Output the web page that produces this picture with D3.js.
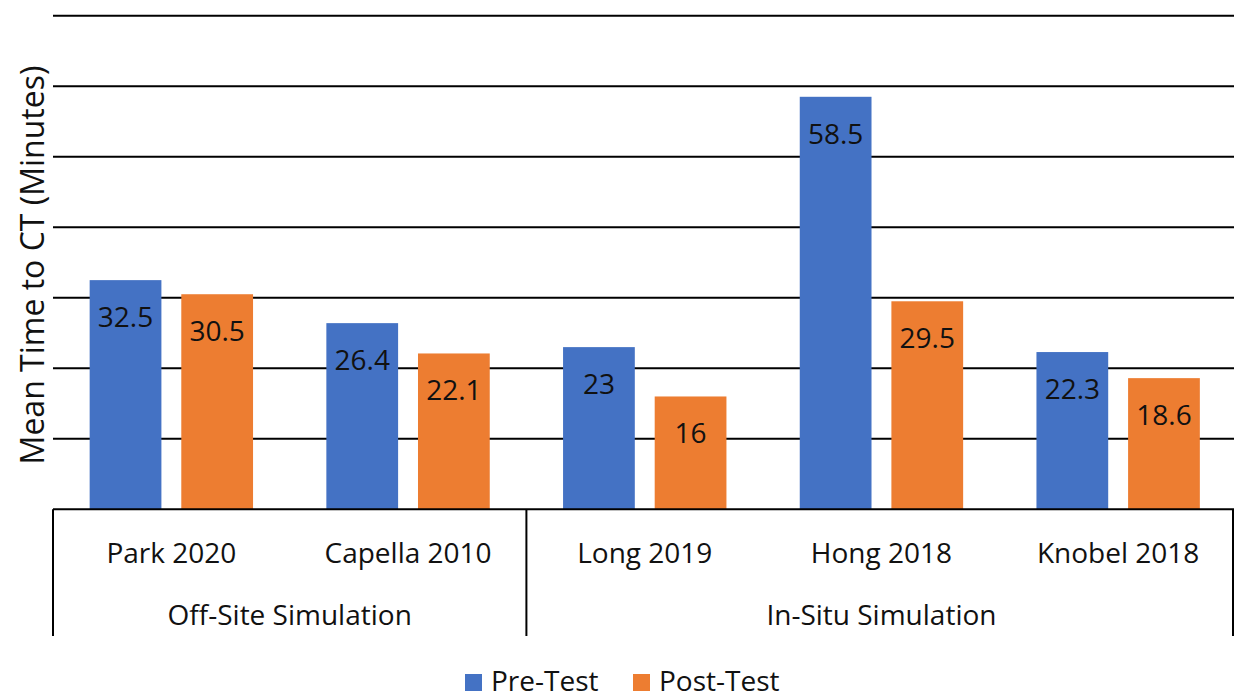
<!DOCTYPE html>
<html>
<head>
<meta charset="utf-8">
<script src="https://cdn.jsdelivr.net/npm/d3@7"></script>
<style>
  html, body { margin: 0; padding: 0; background: #fff; }
  svg { display: block; }
  text { font-family: "Open Sans", "Noto Sans", sans-serif; fill: #111; }
</style>
</head>
<body>
<svg id="chart" width="1234" height="699"></svg>
<script>
// Mean time to CT, grouped by simulation setting
const studies = ["Park 2020", "Capella 2010", "Long 2019", "Hong 2018", "Knobel 2018"];
const groups = ["Off-Site Simulation", "Off-Site Simulation", "In-Situ Simulation", "In-Situ Simulation", "In-Situ Simulation"];
const seriesNames = ["Pre-Test", "Post-Test"];
const preTest = [32.5, 26.4, 23, 58.5, 22.3];
const postTest = [30.5, 22.1, 16, 29.5, 18.6];
const yTicks = [0, 10, 20, 30, 40, 50, 60, 70];
const yTitle = "Mean Time to CT (Minutes)";

const colors = { "Pre-Test": "#4472C4", "Post-Test": "#ED7D31" };

(function () {
  const svg = d3.select("#chart");
  const W = 1234;
  const plotLeft = 53, plotRight = 1236.5, plotTop = 15.7, plotBottom = 509.3;

  const x0 = d3.scaleBand().domain(studies).range([plotLeft, plotRight]).padding(0);
  const x1 = d3.scaleBand().domain(seriesNames).range([0, x0.bandwidth()])
    .paddingInner(0.217).paddingOuter(0.4);
  const y = d3.scaleLinear().domain([0, 70]).range([plotBottom, plotTop]);

  // horizontal gridlines
  svg.append("g")
    .selectAll("line")
    .data(yTicks.filter(t => t > 0))
    .join("line")
    .attr("x1", plotLeft).attr("x2", W)
    .attr("y1", d => y(d)).attr("y2", d => y(d))
    .attr("stroke", "#000").attr("stroke-width", 2);

  // bars
  const rows = studies.map((s, i) => ({ study: s, values: [
    { key: "Pre-Test", value: preTest[i] },
    { key: "Post-Test", value: postTest[i] }
  ]}));

  const cat = svg.append("g").selectAll("g")
    .data(rows).join("g")
    .attr("transform", d => `translate(${x0(d.study)},0)`);

  cat.selectAll("rect")
    .data(d => d.values).join("rect")
    .attr("x", d => x1(d.key))
    .attr("y", d => y(d.value))
    .attr("width", x1.bandwidth())
    .attr("height", d => y(0) - y(d.value))
    .attr("fill", d => colors[d.key]);

  cat.selectAll("text.val")
    .data(d => d.values).join("text")
    .attr("class", "val")
    .attr("x", d => x1(d.key) + x1.bandwidth() / 2)
    .attr("y", d => y(d.value) + 47)
    .attr("text-anchor", "middle")
    .attr("font-size", 28)
    .text(d => d.value);

  // category axis baseline
  svg.append("line")
    .attr("x1", plotLeft).attr("x2", W)
    .attr("y1", y(0)).attr("y2", y(0))
    .attr("stroke", "#000").attr("stroke-width", 2);

  // study labels
  svg.append("g").selectAll("text")
    .data(studies).join("text")
    .attr("x", d => x0(d) + x0.bandwidth() / 2)
    .attr("y", 563)
    .attr("text-anchor", "middle")
    .attr("font-size", 28)
    .text(d => d);

  // group spans and separators
  const groupNames = Array.from(new Set(groups));
  const spans = groupNames.map(g => {
    const members = studies.filter((s, i) => groups[i] === g);
    return { name: g, x0: x0(members[0]), x1: x0(members[members.length - 1]) + x0.bandwidth() };
  });

  const seps = [spans[0].x0, ...spans.map(s => s.x1)];
  svg.append("g").selectAll("line")
    .data(seps).join("line")
    .attr("x1", d => Math.min(d, W - 1)).attr("x2", d => Math.min(d, W - 1))
    .attr("y1", y(0)).attr("y2", 636)
    .attr("stroke", "#000").attr("stroke-width", 2);

  svg.append("g").selectAll("text")
    .data(spans).join("text")
    .attr("x", d => (d.x0 + d.x1) / 2)
    .attr("y", 625)
    .attr("text-anchor", "middle")
    .attr("font-size", 28)
    .text(d => d.name);

  // y-axis title
  svg.append("text")
    .attr("transform", `translate(44,265) rotate(-90)`)
    .attr("text-anchor", "middle")
    .attr("font-size", 32)
    .text(yTitle);

  // legend
  const legend = svg.append("g");
  const legendX = [465, 633];
  seriesNames.forEach((name, i) => {
    const g = legend.append("g").attr("transform", `translate(${legendX[i]},0)`);
    g.append("rect").attr("x", 0).attr("y", 674).attr("width", 17).attr("height", 17)
      .attr("fill", colors[name]);
    g.append("text").attr("x", 26).attr("y", 691).attr("font-size", 28).text(name);
  });
})();
</script>
</body>
</html>
